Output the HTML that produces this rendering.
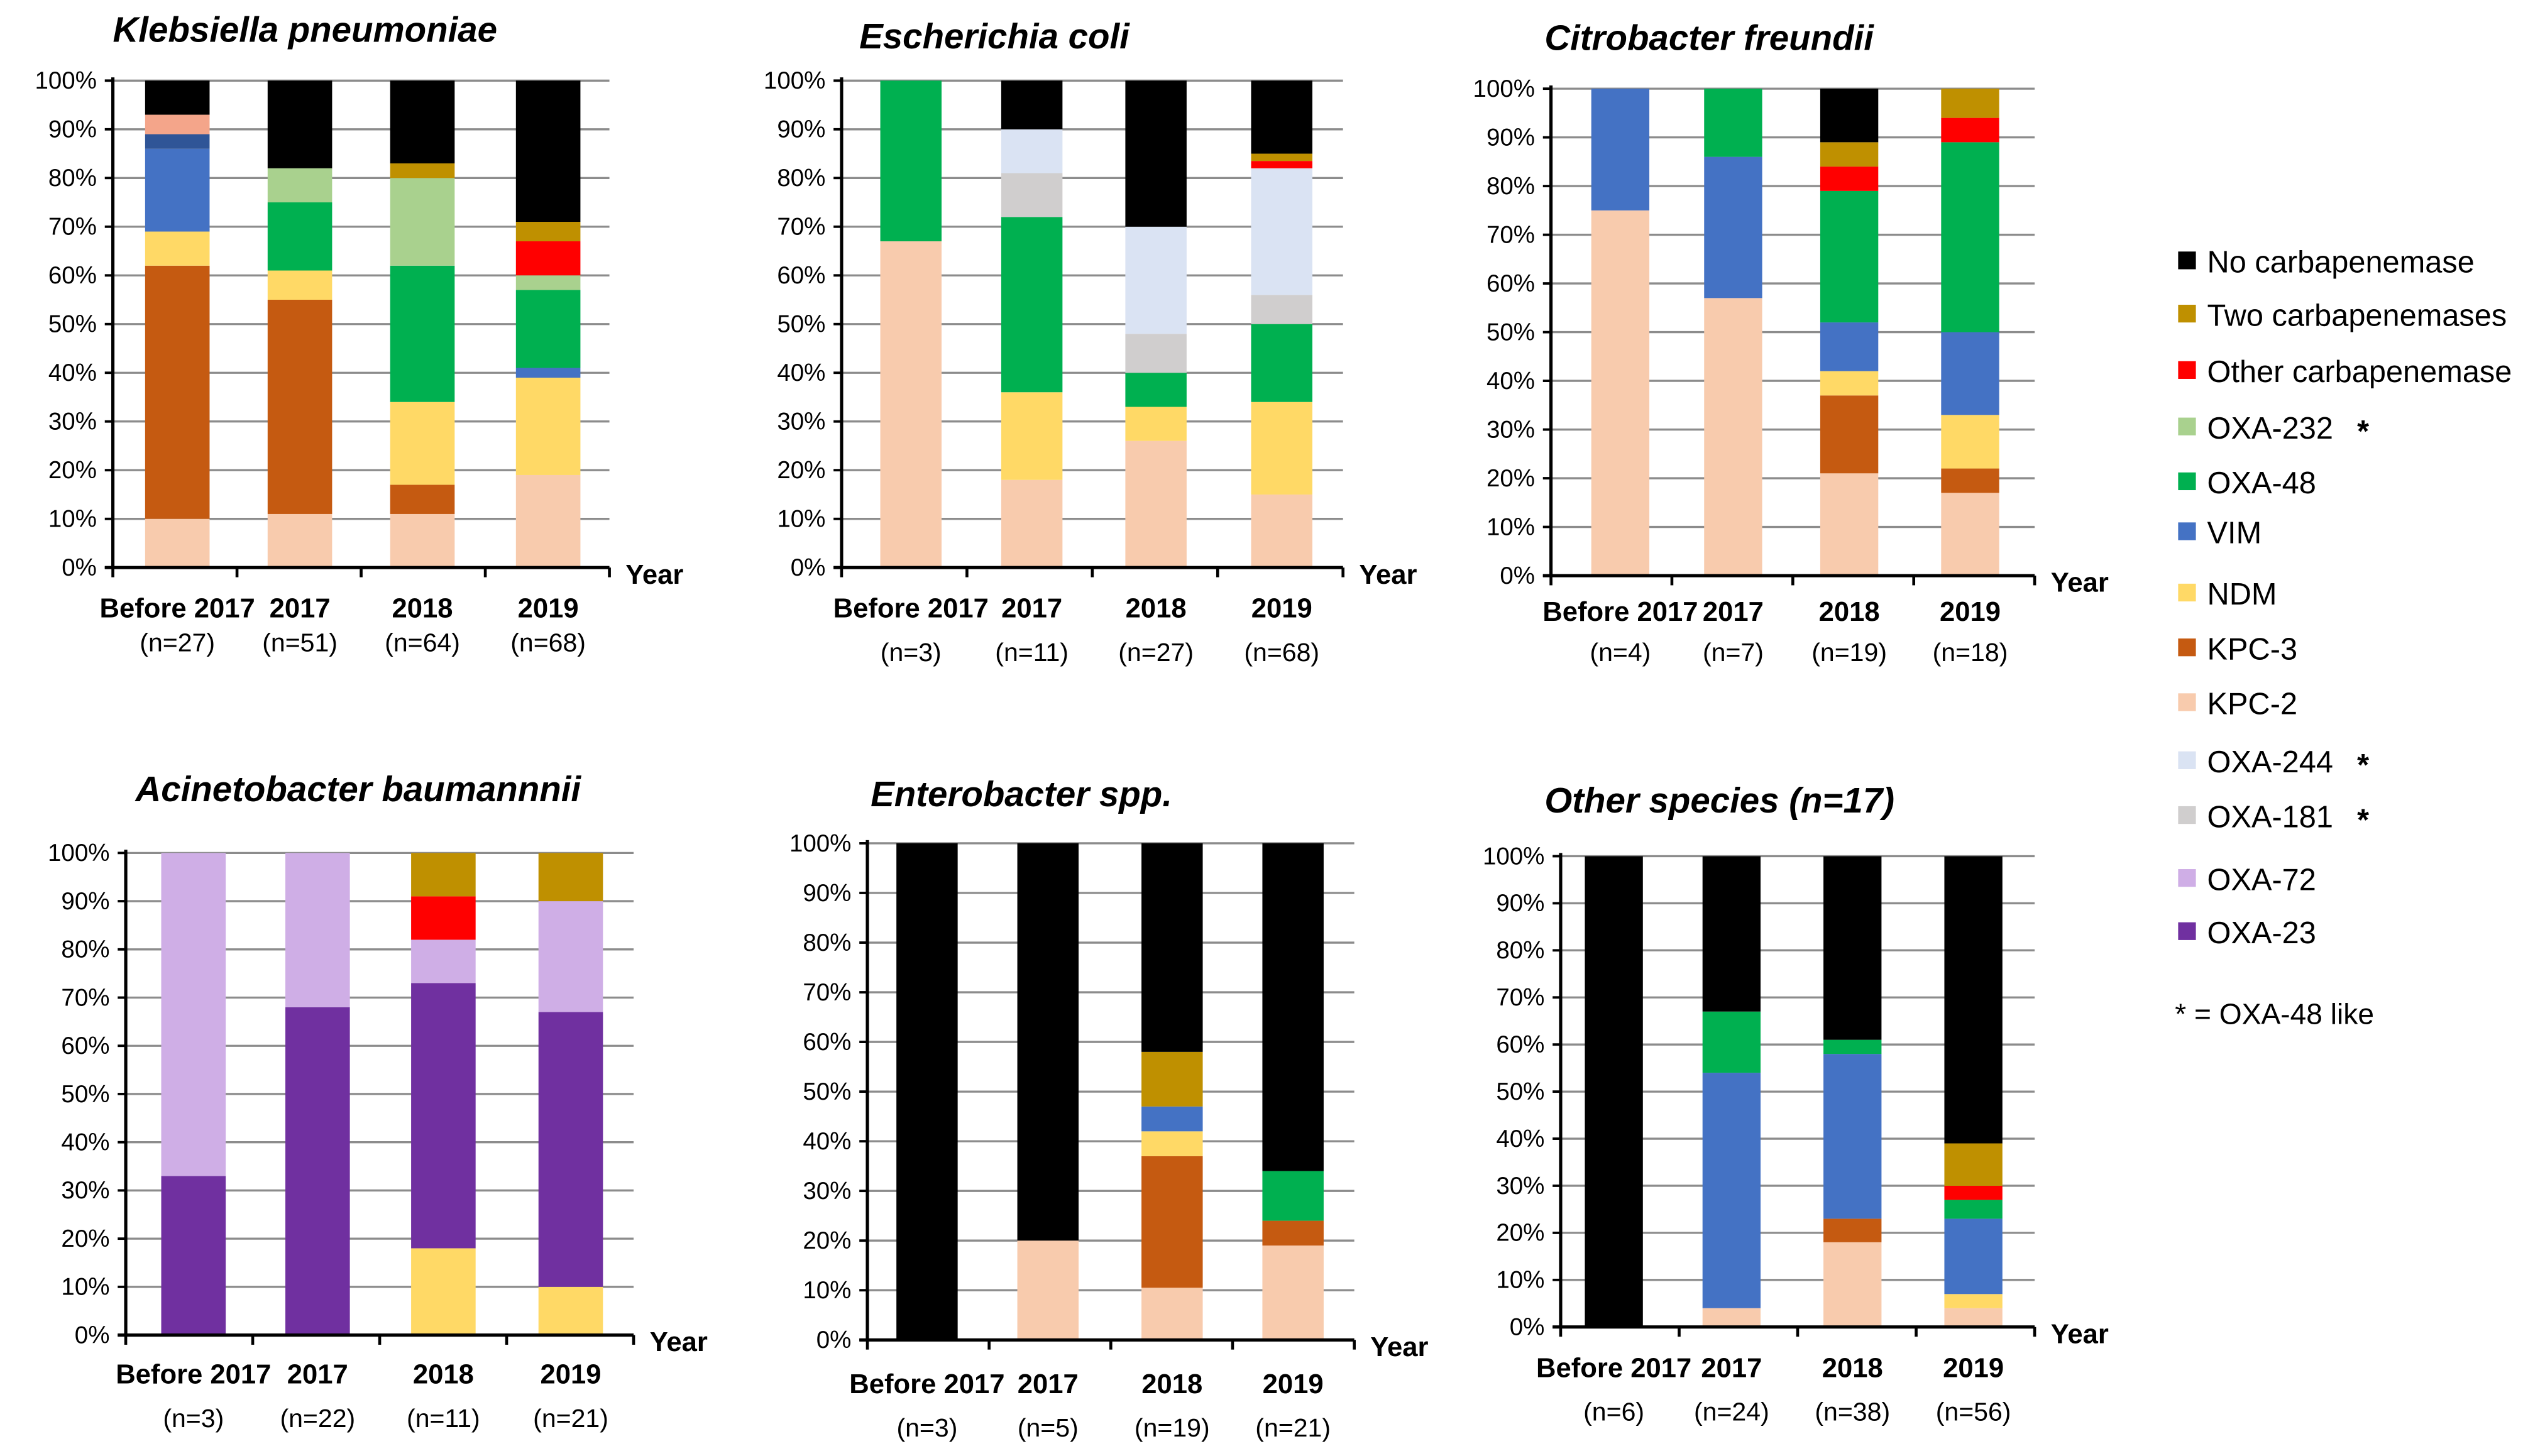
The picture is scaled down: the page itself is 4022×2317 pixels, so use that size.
<!DOCTYPE html>
<html><head><meta charset="utf-8"><style>
html,body{margin:0;padding:0;background:#fff;}
svg{display:block;}
text{font-family:"Liberation Sans",Arial,sans-serif;}
</style></head>
<body>
<svg id="chart" width="4022" height="2317" viewBox="0 0 1568 903" preserveAspectRatio="none" xmlns="http://www.w3.org/2000/svg"></svg>
<script>
const categories = ["Before 2017","2017","2018","2019"];
const yTicks = ["0%","10%","20%","30%","40%","50%","60%","70%","80%","90%","100%"];
const seriesNames = ["KPC-2","KPC-3","NDM","VIM","VIM-b","OXA-48","OXA-232","OXA-181","OXA-244","OXA-23","OXA-72","Other-b","Other carbapenemase","Two carbapenemases","No carbapenemase"];
const seriesColors = ["#f8cbad","#c55a11","#ffd966","#4472c4","#2f5597","#00b050","#a9d18e","#d0cece","#dae3f3","#7030a0","#cfaee6","#f4a58a","#ff0000","#bf9000","#000000"];

const klebN = ["(n=27)","(n=51)","(n=64)","(n=68)"];
const klebKPC2 = [10,11,11,19];
const klebKPC3 = [52,44,6,0];
const klebNDM = [7,6,17,20];
const klebVIM = [17,0,0,2];
const klebVIMb = [3,0,0,0];
const klebOXA48 = [0,14,28,16];
const klebOXA232 = [0,7,18,3];
const klebOtherB = [4,0,0,0];
const klebOther = [0,0,0,7];
const klebTwo = [0,0,3,4];
const klebNo = [7,18,17,29];

const ecoliN = ["(n=3)","(n=11)","(n=27)","(n=68)"];
const ecoliKPC2 = [67,18,26,15];
const ecoliNDM = [0,18,7,19];
const ecoliOXA48 = [33,36,7,16];
const ecoliOXA181 = [0,9,8,6];
const ecoliOXA244 = [0,9,22,26];
const ecoliOther = [0,0,0,1.5];
const ecoliTwo = [0,0,0,1.5];
const ecoliNo = [0,10,30,15];

const citroN = ["(n=4)","(n=7)","(n=19)","(n=18)"];
const citroKPC2 = [75,57,21,17];
const citroKPC3 = [0,0,16,5];
const citroNDM = [0,0,5,11];
const citroVIM = [25,29,10,17];
const citroOXA48 = [0,14,27,39];
const citroOther = [0,0,5,5];
const citroTwo = [0,0,5,6];
const citroNo = [0,0,11,0];

const acinN = ["(n=3)","(n=22)","(n=11)","(n=21)"];
const acinNDM = [0,0,18,10];
const acinOXA23 = [33,68,55,57];
const acinOXA72 = [67,32,9,23];
const acinOther = [0,0,9,0];
const acinTwo = [0,0,9,10];

const enteroN = ["(n=3)","(n=5)","(n=19)","(n=21)"];
const enteroKPC2 = [0,20,10.5,19];
const enteroKPC3 = [0,0,26.5,5];
const enteroNDM = [0,0,5,0];
const enteroVIM = [0,0,5,0];
const enteroOXA48 = [0,0,0,10];
const enteroTwo = [0,0,11,0];
const enteroNo = [100,80,42,66];

const otherN = ["(n=6)","(n=24)","(n=38)","(n=56)"];
const otherKPC2 = [0,4,18,4];
const otherKPC3 = [0,0,5,0];
const otherNDM = [0,0,0,3];
const otherVIM = [0,50,35,16];
const otherOXA48 = [0,13,3,4];
const otherOther = [0,0,0,3];
const otherTwo = [0,0,0,9];
const otherNo = [100,33,39,61];

const panels = [
 {name:"klebsiella",title:"Klebsiella pneumoniae",titleX:70,titleY:26,ax:70,y0:352,y1:50,xEnd:378,cx:[110,186,262,340],bw:40,labY:383,nY:404,n:klebN,
  d:{"KPC-2":klebKPC2,"KPC-3":klebKPC3,"NDM":klebNDM,"VIM":klebVIM,"VIM-b":klebVIMb,"OXA-48":klebOXA48,"OXA-232":klebOXA232,"Other-b":klebOtherB,"Other carbapenemase":klebOther,"Two carbapenemases":klebTwo,"No carbapenemase":klebNo}},
 {name:"ecoli",title:"Escherichia coli",titleX:533,titleY:30,ax:522,y0:352,y1:50,xEnd:833,cx:[565,640,717,795],bw:38,labY:383,nY:410,n:ecoliN,
  d:{"KPC-2":ecoliKPC2,"NDM":ecoliNDM,"OXA-48":ecoliOXA48,"OXA-181":ecoliOXA181,"OXA-244":ecoliOXA244,"Other carbapenemase":ecoliOther,"Two carbapenemases":ecoliTwo,"No carbapenemase":ecoliNo}},
 {name:"citrobacter",title:"Citrobacter freundii",titleX:958,titleY:31,ax:962,y0:357,y1:55,xEnd:1262,cx:[1005,1075,1147,1222],bw:36,labY:385,nY:410,n:citroN,
  d:{"KPC-2":citroKPC2,"KPC-3":citroKPC3,"NDM":citroNDM,"VIM":citroVIM,"OXA-48":citroOXA48,"Other carbapenemase":citroOther,"Two carbapenemases":citroTwo,"No carbapenemase":citroNo}},
 {name:"acinetobacter",title:"Acinetobacter baumannnii",titleX:84,titleY:497,ax:78,y0:828,y1:529,xEnd:393,cx:[120,197,275,354],bw:40,labY:858,nY:885,n:acinN,
  d:{"NDM":acinNDM,"OXA-23":acinOXA23,"OXA-72":acinOXA72,"Other carbapenemase":acinOther,"Two carbapenemases":acinTwo}},
 {name:"enterobacter",title:"Enterobacter spp.",titleX:540,titleY:500,ax:538,y0:831,y1:523,xEnd:840,cx:[575,650,727,802],bw:38,labY:864,nY:891,n:enteroN,
  d:{"KPC-2":enteroKPC2,"KPC-3":enteroKPC3,"NDM":enteroNDM,"VIM":enteroVIM,"OXA-48":enteroOXA48,"Two carbapenemases":enteroTwo,"No carbapenemase":enteroNo}},
 {name:"other-species",title:"Other species (n=17)",titleX:958,titleY:504,ax:968,y0:823,y1:531,xEnd:1262,cx:[1001,1074,1149,1224],bw:36,labY:854,nY:881,n:otherN,
  d:{"KPC-2":otherKPC2,"KPC-3":otherKPC3,"NDM":otherNDM,"VIM":otherVIM,"OXA-48":otherOXA48,"Other carbapenemase":otherOther,"Two carbapenemases":otherTwo,"No carbapenemase":otherNo}}
];

const NS="http://www.w3.org/2000/svg";
const svg=document.getElementById('chart');
function mk(tag,attrs,parent,txt){const e=document.createElementNS(NS,tag);for(const k in attrs)e.setAttribute(k,attrs[k]);if(txt!==undefined)e.textContent=txt;(parent||svg).appendChild(e);return e;}

panels.forEach(p=>{
  const g=mk('g',{});
  
  
  const yScale=v=>p.y0-(p.y0-p.y1)*v/100;
  const t=mk('text',{x:p.titleX,y:p.titleY,'font-size':22,'font-style':'italic','font-weight':'bold',fill:'#000'},g,p.title);
  
  
  yTicks.forEach((lab,i)=>{
    const y=yScale(i*10);
    if(i>0){const gl=mk('line',{x1:p.ax,x2:p.xEnd,y1:y,y2:y,stroke:'#8c8c8c','stroke-width':1.3},g);
      
      }
    const tk=mk('line',{x1:p.ax-5,x2:p.ax,y1:y,y2:y,stroke:'#000','stroke-width':1.5},g);
    
    
    const tl=mk('text',{x:p.ax-10,y:y+5,'font-size':15,'text-anchor':'end',fill:'#000'},g,lab);
    
    
  });
  const step=(p.xEnd-p.ax)/4;
  categories.forEach((c,ci)=>{
    let base=0;
    seriesNames.forEach((s,si)=>{
      const arr=p.d[s]; if(!arr)return; const v=arr[ci]; if(!v)return;
      const yt=yScale(base+v), yb=yScale(base);
      const r=mk('rect',{x:p.cx[ci]-p.bw/2,y:yt,width:p.bw,height:yb-yt,fill:seriesColors[si]},g);
      
      
      base+=v;
    });
    const cl=mk('text',{x:p.cx[ci],y:p.labY,'font-size':17,'font-weight':'bold','text-anchor':'middle',fill:'#000'},g,c);
    
    
    const nl=mk('text',{x:p.cx[ci],y:p.nY,'font-size':16,'text-anchor':'middle',fill:'#000'},g,p.n[ci]);
    
    
  });
  for(let i=0;i<=4;i++){const x=p.ax+step*i;
    const bt=mk('line',{x1:x,x2:x,y1:p.y0,y2:p.y0+6,stroke:'#000','stroke-width':1.8},g);
    
    }
  const ya=mk('line',{x1:p.ax,x2:p.ax,y1:p.y1-2,y2:p.y0,stroke:'#000','stroke-width':2},g);
  
  
  const xa=mk('line',{x1:p.ax-5,x2:p.xEnd,y1:p.y0,y2:p.y0,stroke:'#000','stroke-width':2},g);
  
  
  const yr=mk('text',{x:p.xEnd+10,y:p.y0+10,'font-size':17,'font-weight':'bold',fill:'#000'},g,'Year');
  
  
});

const legendLabels=["No carbapenemase","Two carbapenemases","Other carbapenemase","OXA-232","OXA-48","VIM","NDM","KPC-3","KPC-2","OXA-244","OXA-181","OXA-72","OXA-23"];
const legendStar=[false,false,false,true,false,false,false,false,false,true,true,false,false];
const legendY=[162,195,230,265,299,330,368,402,436,472,506,545,578];
const lg=mk('g',{});


legendLabels.forEach((l,i)=>{
  const y=legendY[i];
  const e=mk('g',{},lg);
  
  
  mk('rect',{x:1351,y:y-6,width:11,height:11,fill:seriesColors[seriesNames.indexOf(l)]},e);
  mk('text',{x:1369,y:y+7,'font-size':19,fill:'#000'},e,l);
  if(legendStar[i]) mk('text',{x:1462,y:y+9,'font-size':19,'font-weight':'bold',fill:'#000'},e,'*');
});
const note=mk('text',{x:1349,y:635,'font-size':18,fill:'#000'},lg,'* = OXA-48 like');


</script>
</body></html>
